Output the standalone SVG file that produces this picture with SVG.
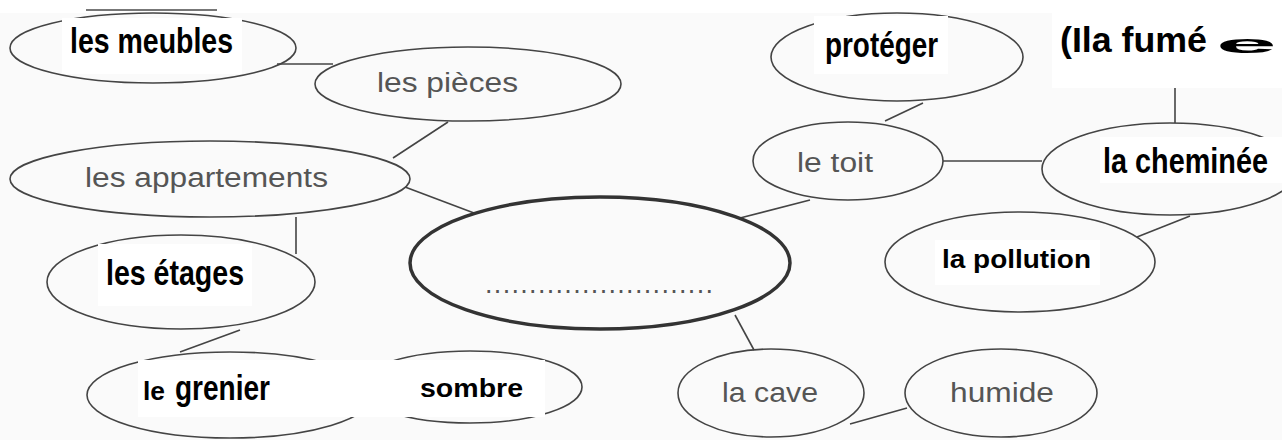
<svg xmlns="http://www.w3.org/2000/svg" width="1282" height="440" viewBox="0 0 1282 440">
<style>
.bg{fill:#fafafa}
.patch{fill:#ffffff}
.node{fill:none;stroke:#444;stroke-width:1.6}
.center{fill:none;stroke:#333;stroke-width:3.5}
.edge{stroke:#444;stroke-width:1.6;fill:none}
.gray{font-family:"Liberation Sans",Arial,sans-serif;fill:#555;font-size:27px}
.bold{font-family:"Liberation Sans",Arial,sans-serif;fill:#000;font-weight:bold;font-size:26px}
.narrow{font-family:"Liberation Sans Narrow","Liberation Sans",Arial,sans-serif;fill:#000;font-weight:bold;font-size:35px}
</style>
<rect class="bg" x="0" y="0" width="1282" height="440"/>
<rect class="patch" x="0" y="0" width="1282" height="13"/>
<line x1="86" y1="10" x2="217" y2="10" stroke="#777" stroke-width="2"/>

<g id="connectors">
<line class="edge" x1="277" y1="64" x2="333" y2="64"/>
<line class="edge" x1="448" y1="122" x2="393" y2="158"/>
<line class="edge" x1="405" y1="187" x2="474" y2="213"/>
<line class="edge" x1="296" y1="217" x2="296" y2="254"/>
<line class="edge" x1="240" y1="330" x2="180" y2="352"/>
<line class="edge" x1="740" y1="218" x2="810" y2="200"/>
<line class="edge" x1="885" y1="121" x2="923" y2="103"/>
<line class="edge" x1="943" y1="161" x2="1042" y2="161"/>
<line class="edge" x1="1175" y1="88" x2="1175" y2="123"/>
<line class="edge" x1="1137" y1="237" x2="1190" y2="216"/>
<line class="edge" x1="735" y1="315" x2="754" y2="350"/>
<line class="edge" x1="850" y1="424" x2="907" y2="408"/>
</g>

<g id="node-meubles">
<ellipse class="node" cx="153" cy="48" rx="143" ry="35"/>
<rect class="patch" x="62" y="18" width="180" height="56"/>
<text class="narrow" x="70" y="53" textLength="163" lengthAdjust="spacingAndGlyphs">les meubles</text>
</g>

<g id="node-pieces">
<ellipse class="node" cx="468" cy="84" rx="153" ry="37"/>
<text class="gray" x="377" y="92" textLength="141" lengthAdjust="spacingAndGlyphs">les pièces</text>
</g>

<g id="node-appartements">
<ellipse class="node" cx="210" cy="179" rx="200" ry="38"/>
<text class="gray" x="85" y="187" textLength="243" lengthAdjust="spacingAndGlyphs">les appartements</text>
</g>

<g id="node-center">
<ellipse class="center" cx="600" cy="263" rx="190" ry="66"/>
<text class="gray" x="485" y="293" font-size="18" textLength="228" lengthAdjust="spacing">..........................</text>
</g>

<g id="node-etages">
<ellipse class="node" cx="181" cy="282" rx="134" ry="47"/>
<rect class="patch" x="98" y="244" width="154" height="62"/>
<text class="narrow" x="106" y="285" textLength="138" lengthAdjust="spacingAndGlyphs">les étages</text>
</g>

<g id="node-grenier">
<ellipse class="node" cx="230" cy="395" rx="143" ry="43"/>
<rect class="patch" x="138" y="360" width="210" height="57"/>
<text class="bold" x="143" y="400" font-size="23" textLength="22" lengthAdjust="spacingAndGlyphs">le</text>
<text class="narrow" x="175" y="400" font-size="37" textLength="95" lengthAdjust="spacingAndGlyphs">grenier</text>
</g>

<g id="node-sombre">
<ellipse class="node" cx="470" cy="387" rx="112" ry="36"/>
<rect class="patch" x="345" y="360" width="200" height="57"/>
<text class="bold" x="420" y="397" font-size="24" textLength="103" lengthAdjust="spacingAndGlyphs">sombre</text>
</g>

<g id="node-toit">
<ellipse class="node" cx="848" cy="161" rx="95" ry="39"/>
<text class="gray" x="797" y="172" textLength="76" lengthAdjust="spacingAndGlyphs">le toit</text>
</g>

<g id="node-proteger">
<ellipse class="node" cx="897" cy="57" rx="126" ry="44"/>
<rect class="patch" x="814" y="16" width="134" height="58"/>
<text class="narrow" x="825" y="57" textLength="113" lengthAdjust="spacingAndGlyphs">protéger</text>
</g>

<g id="node-fumee">
<rect class="patch" x="1052" y="13" width="230" height="75"/>
<text class="narrow" x="1060" y="52" font-size="34" textLength="147" lengthAdjust="spacingAndGlyphs">(Ila fumé</text>
<text class="bold" font-size="31" transform="translate(1216,53) scale(4.2,1)">e</text>
</g>

<g id="node-cheminee">
<ellipse class="node" cx="1170" cy="169" rx="128" ry="46"/>
<rect class="patch" x="1100" y="137" width="182" height="46"/>
<text class="narrow" x="1103" y="173" font-size="36" textLength="165" lengthAdjust="spacingAndGlyphs">la cheminée</text>
</g>

<g id="node-pollution">
<ellipse class="node" cx="1020" cy="262" rx="135" ry="50"/>
<rect class="patch" x="935" y="240" width="165" height="45"/>
<text class="bold" x="942" y="268" font-size="27" textLength="149" lengthAdjust="spacingAndGlyphs">la pollution</text>
</g>

<g id="node-cave">
<ellipse class="node" cx="771" cy="393" rx="93" ry="44"/>
<text class="gray" x="722" y="402" textLength="96" lengthAdjust="spacingAndGlyphs">la cave</text>
</g>

<g id="node-humide">
<ellipse class="node" cx="1001" cy="393" rx="96" ry="44"/>
<text class="gray" x="950" y="402" textLength="104" lengthAdjust="spacingAndGlyphs">humide</text>
</g>
</svg>
